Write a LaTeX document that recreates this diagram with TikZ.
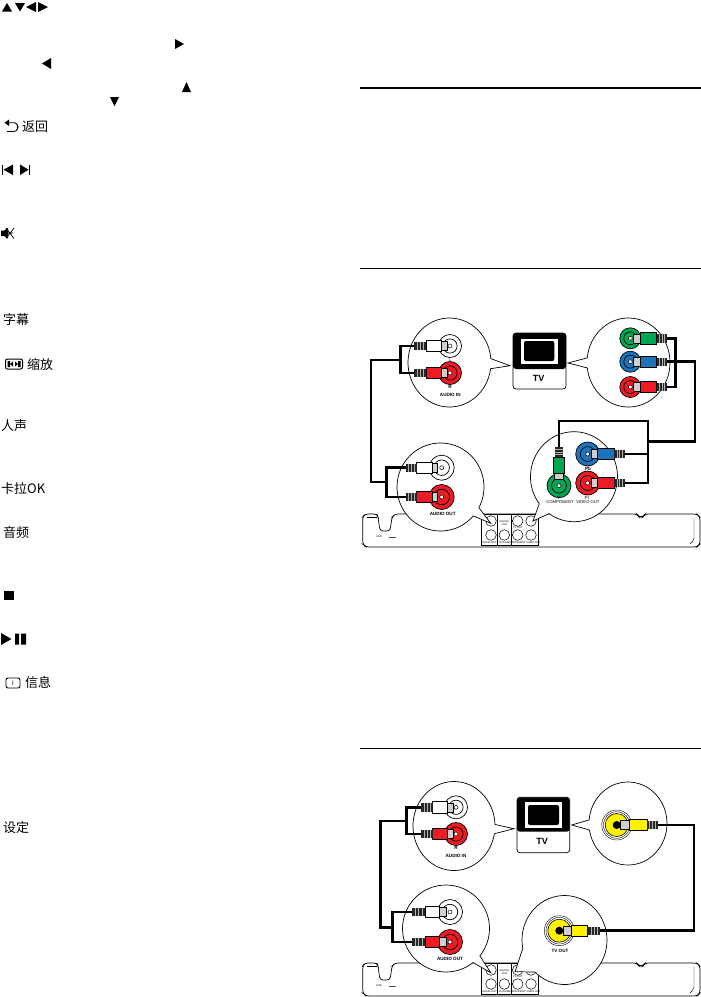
\documentclass[tikz,border=0pt]{standalone}
\usepackage{fontspec}
\setmainfont{Liberation Sans}
\newfontfamily\cjk{Noto Sans CJK SC}
\definecolor{cgreen}{HTML}{00A651}
\definecolor{cblue}{HTML}{1C75BC}
\definecolor{cred}{HTML}{ED1C24}
\definecolor{cyel}{HTML}{FFF200}
\definecolor{cgrey}{HTML}{CFCFCF}
\tikzset{
  cable/.style={line width=2.7pt,line join=miter},
  bubble/.style={draw=black,fill=white,line width=.7pt,line join=miter},
  rulethin/.style={line width=.7pt},
  solidtri/.style={fill=black},
  cjklabel/.style={anchor=west,inner sep=0pt,font=\cjk\fontsize{13}{13}\selectfont},
  tiny4/.style={inner sep=0pt,font=\bfseries\fontsize{4.6}{5}\selectfont},
  tiny3/.style={inner sep=0pt,align=center,font=\fontsize{2.6}{3}\selectfont},
  tvlabel/.style={inner sep=0pt,font=\bfseries\fontsize{9}{10}\selectfont},
  panel/.style={draw=black,line width=.6pt}
}
% name cx cy rx ry a1 a2 tipx tipy
\newcommand\bubbleat[9]{%
  \draw[bubble] ({#2+#4*cos(#6)},{#3+#5*sin(#6)}) arc[start angle=#6,end angle=#7,x radius=#4,y radius=#5] -- (#8,#9) -- cycle;%
  \coordinate (#1) at (#8,#9);}
% x y colour r
\newcommand\jackat[4]{%
  \draw[fill=#3,line width=.7pt] (#1,#2) circle[radius=#4];
  \draw[line width=.7pt] (#1,#2) circle[radius={#4*.62}];
  \draw[fill=white,line width=.5pt] (#1,#2) circle[radius=2];}
% name x y colour rot a b c d
\newcommand\plugat[9]{%
  \begin{scope}[shift={(#2,#3)},rotate=#5]
    \draw[fill=cgrey,line width=.5pt] (#6,-4.5) rectangle (#7,4.5);
    \draw[fill=#4,line width=.6pt] (#7,-5.7) rectangle (#8,5.7);
    \fill[black!85] (#8,-4.2) rectangle (#9,4.2);
    \foreach \q in {.25,.5,.75}{\draw[white!70!black,line width=.4pt] ({#8+\q*(#9-#8)},-4.2) -- ({#8+\q*(#9-#8)},4.2);}
    \coordinate (#1) at (#9,0);
  \end{scope}}
% TV: x1 y1 x2 y2 ; yb ; frame ; screen
\newcommand\tvset[9]{%
  \draw[fill=white,line width=.7pt,rounded corners=3pt] (#1,#2) rectangle (#3,#4);
  \fill[black,rounded corners=3pt] (#1,#2) -- (#3,#2) -- (#3,#5) -- (#1,#5) -- cycle;
  \fill[white] (#6,#7) rectangle (#8,#9);}
% device, dy
\newcommand\deviceat[1]{%
  \begin{scope}[yshift=-#1pt]
    \draw[line width=.7pt,rounded corners=3pt] (377,514) -- (365,514) -- (362.7,517) -- (362.7,544) -- (366,547) -- (697,547) -- (700,544) -- (700,517) -- (697,514) -- (645,514) -- (643,517) -- (639,517) -- (637,514) -- (395,514) -- (392,517) -- (390,531) -- (380,531) -- (378,517) -- cycle;
    \draw[line width=.4pt,rounded corners=2pt] (377,517.5) -- (367,517.5);
    \draw[line width=.4pt,rounded corners=2pt] (694,517.5) -- (694,540) -- (690,544);
    \node[tiny3] (usb#1) at (379,537) {USB};
    \fill[black!70] (389,536.6) rectangle (396,537.4);
    \draw[fill=white,panel] (481,514) rectangle (538,545);
    \draw[panel] (497.7,514) -- (497.7,545);
    \draw[panel] (511.5,514) -- (511.5,545);
    \foreach \cx/\cy in {491/521,491/535,504.3/535,517.7/521,517.7/535,531/521,531/535}{
      \draw[line width=.5pt] (\cx,\cy) circle[radius=5.3];}
    \node[tiny3] (pa#1) at (489.5,543) {AUDIO OUT};
    \node[tiny3] (pb#1) at (504.5,523) {DIGITAL\\OUT};
    \node[tiny3] (pc#1) at (504.5,543) {COAXIAL};
    \node[tiny3] (pd#1) at (517.7,528) {TV OUT};
    \node[tiny3] (pe#1) at (524.7,543) {COMPONENT VIDEO OUT};
  \end{scope}}
\begin{document}
\begin{tikzpicture}[x=1pt,y=-1pt]
\useasboundingbox[fill=white] (0,0) rectangle (701,997);
% rules
\coordinate (r1a) at (360,88); \coordinate (r1b) at (701,88);
\coordinate (r2a) at (360,268); \coordinate (r2b) at (701,268);
\coordinate (r3a) at (360,748); \coordinate (r3b) at (701,748);
\draw[line width=1.5pt] (r1a) -- (r1b);
\draw[rulethin] (r2a) -- (r2b);
\draw[rulethin] (r3a) -- (r3b);

% ---------- left column ----------
\fill[solidtri] (2,11.5) -- (12,11.5) -- (7,3) -- cycle;
\fill[solidtri] (15,3) -- (25,3) -- (20,11.5) -- cycle;
\fill[solidtri] (36,2) -- (36,12) -- (26,7) -- cycle;
\fill[solidtri] (38,2) -- (38,12) -- (48,7) -- cycle;
\fill[solidtri] (175,39) -- (175,49) -- (184,44) -- cycle;
\fill[solidtri] (51,58) -- (51,69) -- (42,63.5) -- cycle;
\fill[solidtri] (182,92) -- (191,92) -- (186.5,82) -- cycle;
\fill[solidtri] (110,97) -- (119,97) -- (114.5,106) -- cycle;
% back
\draw[line width=.9pt,rounded corners=2.5pt] (5.5,122.7) -- (16.5,122.7) -- (18,127) -- (16.5,131.5) -- (7,131.5);
\fill[solidtri] (9,119.5) -- (9,126) -- (4.5,122.7) -- cycle;
\node[cjklabel] (back) at (22,127) {返回};
% skip
\fill[solidtri] (2,164.5) rectangle (3,175);
\fill[solidtri] (13,164.5) -- (13,175) -- (3.5,169.7) -- cycle;
\fill[solidtri] (20,164.5) -- (20,175) -- (28.5,169.7) -- cycle;
\fill[solidtri] (29,164.5) rectangle (30,175);
% mute
\fill[solidtri] (1,230.5) rectangle (4,236) (4,230.5) -- (8,228) -- (8,238.5) -- (4,236) -- cycle;
\draw[line width=.7pt] (6,228) -- (14,238.5) (14,228) -- (6,238.5) (7,233) -- (13,233);
\node[cjklabel] (sub) at (3,320) {字幕};
% zoom icon
\draw[line width=1pt,rounded corners=2pt] (5.5,359) rectangle (22.5,369);
\fill[solidtri] (7.5,361) rectangle (10,367) (18,361) rectangle (20.5,367);
\fill[solidtri] (10,364) -- (13,361.5) -- (13,366.5) -- cycle (18,364) -- (15,361.5) -- (15,366.5) -- cycle;
\node[cjklabel] (zoomt) at (27,365) {缩放};
\node[cjklabel] (vocal) at (1,426) {人声};
\node[cjklabel] (kara) at (1,489) {卡拉OK};
\node[cjklabel] (audio) at (3,533) {音频};
\fill[solidtri] (4,591) rectangle (14,600);
\fill[solidtri] (1,633) -- (1,645) -- (11.5,639) -- cycle;
\fill[solidtri] (15,633.5) rectangle (19,644.5) (21,633.5) rectangle (26,644.5);
\draw[line width=.9pt,rounded corners=2pt] (6,678) rectangle (20,688);
\node[inner sep=0pt,font=\fontsize{7}{7}\selectfont] (infoi) at (13,683) {i};
\node[cjklabel] (info) at (25,683) {信息};
\node[cjklabel] (setup) at (3,828) {设定};

% ---------- upper diagram ----------
\deviceat{0}
\bubbleat{b1}{449.5}{362.5}{41.5}{44.5}{8}{355}{510}{365.7}
\bubbleat{b2}{628.5}{362.5}{41.5}{44.5}{186}{533}{568}{363}
\bubbleat{b3}{440.5}{487}{43.5}{44}{41}{388}{490.7}{523.3}
\bubbleat{b4}{574}{476.7}{43.5}{45}{143}{485}{533}{521}
\tvset{513}{333}{566}{389}{369}{521}{339}{558}{364}
\fill[black,rounded corners=2pt] (524,341) rectangle (554.3,361);
\fill[white] (528,362) rectangle (529,363) (530.5,362) rectangle (531.5,363);
\node[tvlabel] (tv1) at (538.5,378) {TV};
% jacks audio in
\jackat{450}{346}{white}{11.5}
\jackat{450}{373}{cred}{11.5}
\plugat{a1}{450}{346}{white}{180}{3}{9}{24}{36}
\plugat{a2}{450}{373}{cred}{180}{3}{9}{24}{36}
\node[tiny4,text=gray] (lL) at (450,359.5) {L};
\node[tiny4] (lR) at (450,387) {R};
\node[tiny4] (lA) at (450.3,394.5) {AUDIO IN};
% right bubble jacks
\jackat{630.3}{338.3}{cgreen}{10.5}
\jackat{630.3}{361.7}{cblue}{10.5}
\jackat{630.3}{387}{cred}{10.5}
\plugat{c1}{630.3}{338.3}{cgreen}{0}{3}{9.7}{26.4}{37}
\plugat{c2}{630.3}{361.7}{cblue}{0}{3}{9.7}{26.4}{37}
\plugat{c3}{630.3}{387}{cred}{0}{3}{9.7}{26.4}{37}
% audio out
\jackat{441.7}{467.7}{white}{12.5}
\jackat{441.7}{497}{cred}{12.5}
\plugat{d1}{441.7}{467.7}{white}{180}{4}{9}{25}{36}
\plugat{d2}{441.7}{497}{cred}{180}{4}{9}{25}{36}
\node[tiny4] (lAO) at (442.7,514.3) {AUDIO OUT};
% component
\jackat{559}{485.7}{cgreen}{12}
\jackat{587.7}{454}{cblue}{12}
\jackat{587.7}{483}{cred}{12}
\plugat{e1}{559}{485.7}{cgreen}{90}{6}{12.5}{28.5}{39}
\plugat{e2}{587.7}{454}{cblue}{0}{4}{10}{26.3}{37.3}
\plugat{e3}{587.7}{483}{cred}{0}{4}{10}{26.3}{37.3}
\node[tiny4,font=\fontsize{4.6}{5}\selectfont] (lY) at (559,497.8) {Y};
\node[tiny4] (lPb) at (588,469) {Pb};
\node[tiny4,font=\fontsize{4.6}{5}\selectfont] (lPr) at (587,497.8) {Pr};
\node[tiny4,font=\fontsize{4.2}{5}\selectfont] (lC) at (560,501.7) {COMPONENT};
\node[tiny4,font=\fontsize{4.2}{5}\selectfont] (lV) at (588,501.7) {VIDEO OUT};
% cables
\coordinate (j1) at (400.7,360);
\coordinate (j2) at (386.7,482);
\coordinate (j3) at (675.7,361.7);
\coordinate (j4) at (648,441.7);
\draw[cable] (a1) -| (j1) |- (a2);
\draw[cable] (j1) -| (371,482) -- (j2);
\draw[cable] (d1) -| (j2) |- (d2);
\draw[cable] (c1) -| (j3) |- (c3);
\draw[cable] (c2) -- (695,361.7) |- (j4);
\draw[cable] (e1) |- (648,421) |- (e3);
\draw[cable] (e2) -- (648,454);

% ---------- lower diagram ----------
\deviceat{449}
\bubbleat{g1}{454}{826}{41}{44.5}{10}{358}{514}{828.7}
\bubbleat{g2}{628}{823.5}{39}{41.5}{185}{531}{571.7}{825}
\bubbleat{g3}{446}{928.5}{43.5}{43.5}{51.5}{398.8}{490.7}{972.7}
\bubbleat{g4}{564.5}{940}{42.5}{44.5}{169}{494}{515}{971.7}
\tvset{517}{797.3}{569.7}{852.7}{831.7}{525}{802}{561.7}{828}
\fill[black,rounded corners=2pt] (528,805) rectangle (559,825);
\fill[white] (532,826) rectangle (533,827) (534.5,826) rectangle (535.5,827);
\node[tvlabel] (tv2) at (542,841) {TV};
\jackat{456}{807.3}{white}{11.5}
\jackat{456}{834}{cred}{11.5}
\plugat{h1}{456}{807.3}{white}{180}{3}{9}{23.3}{35}
\plugat{h2}{456}{834}{cred}{180}{3}{9}{23.3}{35}
\node[tiny4] (mR) at (456,847.7) {R};
\node[tiny4] (mA) at (456,856) {AUDIO IN};
\jackat{450}{912}{white}{12.5}
\jackat{450}{942}{cred}{12.5}
\plugat{k1}{450}{912}{white}{180}{4}{11}{25}{38}
\plugat{k2}{450}{942}{cred}{180}{4}{11}{25}{38}
\node[tiny4] (mAO) at (450,959.3) {AUDIO OUT};
% yellow jacks
\foreach \jx/\jy in {616.7/825,559.3/930.7}{
  \draw[line width=.4pt] (\jx,\jy) circle[radius=15];
  \draw[line width=.4pt] (\jx,\jy) circle[radius=13.3];
  \draw[fill=cyel,line width=.6pt] (\jx,\jy) circle[radius=11.5];
  \fill[black] (\jx,\jy) circle[radius=4];
}
\plugat{m1}{616.7}{825}{cyel}{0}{4}{12.3}{30.3}{41}
\plugat{m2}{559.3}{930.7}{cyel}{0}{4}{12.4}{28.4}{40.7}
\node[tiny4] (mTV) at (560,951) {TV OUT};
\coordinate (n1) at (406.7,821);
\coordinate (n2) at (392.7,927.7);
\draw[cable] (h1) -| (n1) |- (h2);
\draw[cable] (n1) -| (380.7,927.7) -- (n2);
\draw[cable] (k1) -| (n2) |- (k2);
\draw[cable] (m1) -| (694,930.7) -- (m2);
\end{tikzpicture}
\end{document}
